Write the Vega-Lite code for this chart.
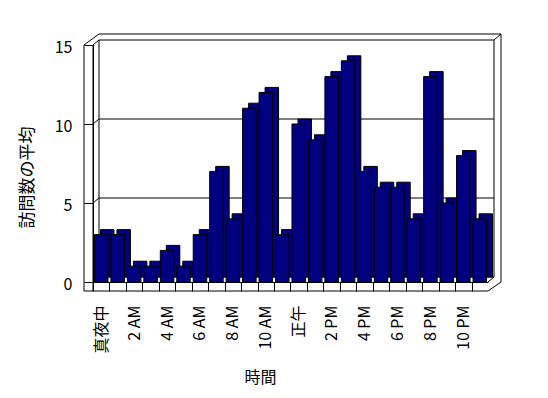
{
  "$schema": "https://vega.github.io/schema/vega-lite/v6.json",
  "width": 395,
  "height": 237,
  "autosize": {"type": "none"},
  "padding": {"left": 93, "top": 45, "right": 60, "bottom": 116},
  "background": "white",
  "config": {
    "view": {"stroke": null},
    "font": "Noto Sans CJK JP",
    "axis": {"labelFont": "Noto Sans CJK JP", "titleFont": "Noto Sans CJK JP"}
  },
  "datasets": {
    "visits": [
      {"hour": 0, "visits": 3}, {"hour": 1, "visits": 3}, {"hour": 2, "visits": 1},
      {"hour": 3, "visits": 1}, {"hour": 4, "visits": 2}, {"hour": 5, "visits": 1},
      {"hour": 6, "visits": 3}, {"hour": 7, "visits": 7}, {"hour": 8, "visits": 4},
      {"hour": 9, "visits": 11}, {"hour": 10, "visits": 12}, {"hour": 11, "visits": 3},
      {"hour": 12, "visits": 10}, {"hour": 13, "visits": 9}, {"hour": 14, "visits": 13},
      {"hour": 15, "visits": 14}, {"hour": 16, "visits": 7}, {"hour": 17, "visits": 6},
      {"hour": 18, "visits": 6}, {"hour": 19, "visits": 4}, {"hour": 20, "visits": 13},
      {"hour": 21, "visits": 5}, {"hour": 22, "visits": 8}, {"hour": 23, "visits": 4}
    ]
  },
  "resolve": {"scale": {"x": "independent"}},
  "layer": [
    {
      "data": {"values": [
        {"x": 0, "x2": 24, "y": 0, "y2": 0}, {"x": 0, "x2": 24, "y": 5, "y2": 5},
        {"x": 0, "x2": 24, "y": 10, "y2": 10}, {"x": 0, "x2": 24, "y": 15, "y2": 15},
        {"x": 0, "x2": 0, "y": 0, "y2": 15}, {"x": 24, "x2": 24, "y": 0, "y2": 15}
      ]},
      "mark": {"type": "rule", "color": "black", "strokeWidth": 1, "xOffset": 6, "x2Offset": 6, "yOffset": -5, "y2Offset": -5},
      "encoding": {
        "x": {"field": "x", "type": "quantitative", "scale": {"domain": [0, 24], "nice": false, "zero": false}, "axis": null},
        "x2": {"field": "x2"},
        "y": {"field": "y", "type": "quantitative"},
        "y2": {"field": "y2"}
      }
    },
    {
      "data": {"values": [
        {"x": 0, "x2": 0, "y": 5, "y2": 5}, {"x": 0, "x2": 0, "y": 10, "y2": 10},
        {"x": 0, "x2": 0, "y": 15, "y2": 15}, {"x": 24, "x2": 24, "y": 0, "y2": 0}
      ]},
      "mark": {"type": "rule", "color": "black", "strokeWidth": 1, "x2Offset": 6, "y2Offset": -5},
      "encoding": {
        "x": {"field": "x", "type": "quantitative", "scale": {"domain": [0, 24], "nice": false, "zero": false}, "axis": null},
        "x2": {"field": "x2"},
        "y": {"field": "y", "type": "quantitative"},
        "y2": {"field": "y2"}
      }
    },
    {
      "data": {"name": "visits"},
      "mark": {"type": "bar", "color": "#000080", "stroke": "black", "strokeWidth": 1, "xOffset": 6, "x2Offset": 6, "yOffset": -5, "y2Offset": -5},
      "encoding": {
        "x": {"field": "hour", "type": "ordinal", "scale": {"paddingInner": 0.18, "paddingOuter": 0.09}, "axis": null},
        "y": {"field": "visits", "type": "quantitative", "scale": {"domain": [0, 15], "nice": false},
          "axis": {"title": "訪問数の平均", "values": [0, 5, 10, 15], "grid": false, "tickSize": 9, "tickColor": "black", "domainColor": "black", "labelFontSize": 16, "labelPadding": 12, "labelColor": "black", "labelOffset": 2, "titleFontSize": 17, "titleFontWeight": "normal", "titleColor": "black", "titleX": -66, "titleY": 132, "titleAlign": "center", "titleBaseline": "middle", "titleAngle": -90}}
      }
    },
    {
      "data": {"name": "visits"},
      "mark": {"type": "bar", "color": "#000080", "stroke": "black", "strokeWidth": 1},
      "encoding": {
        "x": {"field": "hour", "type": "ordinal", "scale": {"paddingInner": 0.18, "paddingOuter": 0.09},
          "axis": {"title": "時間", "bandPosition": 0, "tickOffset": -1.5, "labelOffset": 1.5, "tickSize": 9, "tickColor": "black", "domainColor": "black", "labelAngle": -90, "labelFontSize": 16, "labelColor": "black", "labelPadding": 14, "labelOverlap": false,
            "labelExpr": "datum.value % 2 == 1 ? '' : datum.value == 0 ? '真夜中' : datum.value == 12 ? '正午' : (datum.value % 12) + (datum.value < 12 ? ' AM' : ' PM')",
            "titleFontSize": 16, "titleFontWeight": "normal", "titleColor": "black", "titleX": 167, "titleY": 95, "titleAlign": "center", "titleBaseline": "middle"}},
        "y": {"field": "visits", "type": "quantitative"}
      }
    },
    {
      "data": {"values": [{"x": 0, "x2": 0, "y": 0, "y2": 15}]},
      "mark": {"type": "rule", "color": "black", "strokeWidth": 1, "xOffset": -9, "x2Offset": -9, "yOffset": 9},
      "encoding": {
        "x": {"field": "x", "type": "quantitative", "scale": {"domain": [0, 24], "nice": false, "zero": false}, "axis": null},
        "x2": {"field": "x2"},
        "y": {"field": "y", "type": "quantitative"},
        "y2": {"field": "y2"}
      }
    },
    {
      "data": {"values": [{"x": 0, "x2": 0, "y": 0, "y2": 15}]},
      "mark": {"type": "rule", "color": "black", "strokeWidth": 1, "yOffset": 9},
      "encoding": {
        "x": {"field": "x", "type": "quantitative", "scale": {"domain": [0, 24], "nice": false, "zero": false}, "axis": null},
        "x2": {"field": "x2"},
        "y": {"field": "y", "type": "quantitative"},
        "y2": {"field": "y2"}
      }
    },
    {
      "data": {"values": [{"x": 0, "x2": 24, "y": 0, "y2": 0}]},
      "mark": {"type": "rule", "color": "black", "strokeWidth": 1, "xOffset": -9, "yOffset": 9, "y2Offset": 9},
      "encoding": {
        "x": {"field": "x", "type": "quantitative", "scale": {"domain": [0, 24], "nice": false, "zero": false}, "axis": null},
        "x2": {"field": "x2"},
        "y": {"field": "y", "type": "quantitative"},
        "y2": {"field": "y2"}
      }
    },
    {
      "data": {"values": [{"x": 24, "x2": 24, "y": 0, "y2": 0}]},
      "mark": {"type": "rule", "color": "black", "strokeWidth": 1, "yOffset": 9, "x2Offset": 13},
      "encoding": {
        "x": {"field": "x", "type": "quantitative", "scale": {"domain": [0, 24], "nice": false, "zero": false}, "axis": null},
        "x2": {"field": "x2"},
        "y": {"field": "y", "type": "quantitative"},
        "y2": {"field": "y2"}
      }
    },
    {
      "data": {"values": [{"x": 0, "x2": 24, "y": 15, "y2": 15}]},
      "mark": {"type": "rule", "color": "black", "strokeWidth": 1, "xOffset": 6, "x2Offset": 13, "yOffset": -11, "y2Offset": -11},
      "encoding": {
        "x": {"field": "x", "type": "quantitative", "scale": {"domain": [0, 24], "nice": false, "zero": false}, "axis": null},
        "x2": {"field": "x2"},
        "y": {"field": "y", "type": "quantitative"},
        "y2": {"field": "y2"}
      }
    },
    {
      "data": {"values": [{"x": 24, "x2": 24, "y": 15, "y2": 0}]},
      "mark": {"type": "rule", "color": "black", "strokeWidth": 1, "xOffset": 13, "x2Offset": 13, "yOffset": -11},
      "encoding": {
        "x": {"field": "x", "type": "quantitative", "scale": {"domain": [0, 24], "nice": false, "zero": false}, "axis": null},
        "x2": {"field": "x2"},
        "y": {"field": "y", "type": "quantitative"},
        "y2": {"field": "y2"}
      }
    },
    {
      "data": {"values": [{"x": 0, "x2": 0, "y": 15, "y2": 15}]},
      "mark": {"type": "rule", "color": "black", "strokeWidth": 1, "xOffset": -9, "x2Offset": 6, "y2Offset": -11},
      "encoding": {
        "x": {"field": "x", "type": "quantitative", "scale": {"domain": [0, 24], "nice": false, "zero": false}, "axis": null},
        "x2": {"field": "x2"},
        "y": {"field": "y", "type": "quantitative"},
        "y2": {"field": "y2"}
      }
    },
    {
      "data": {"values": [{"x": 24, "x2": 24, "y": 15, "y2": 15}]},
      "mark": {"type": "rule", "color": "black", "strokeWidth": 1, "xOffset": 6, "x2Offset": 13, "yOffset": -5, "y2Offset": -11},
      "encoding": {
        "x": {"field": "x", "type": "quantitative", "scale": {"domain": [0, 24], "nice": false, "zero": false}, "axis": null},
        "x2": {"field": "x2"},
        "y": {"field": "y", "type": "quantitative"},
        "y2": {"field": "y2"}
      }
    }
  ]
}
